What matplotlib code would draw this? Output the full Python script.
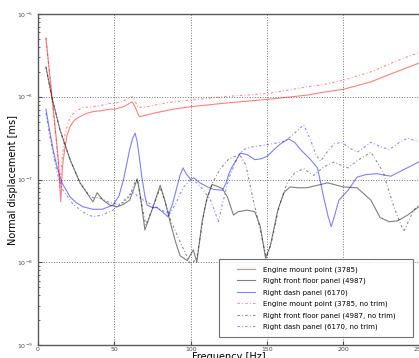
import numpy as np
import matplotlib
matplotlib.use("Agg")
import matplotlib.pyplot as plt
from matplotlib.legend_handler import HandlerLine2D

# ---- data (frequency in Hz, log10 of normal displacement in ms) ----
f_engine = [5.2, 8, 10, 12, 13.3, 14.9, 16, 17.7, 19, 21, 24, 27.5, 32, 36, 41, 47, 50.5, 56, 59, 61.7,
            63.5, 66.3, 69, 75.5, 88.6, 100, 121, 151, 176.5, 185, 200, 218, 233, 250]
engine_log = [-5.29, -5.79, -6.15, -6.51, -6.76, -7.27, -6.85, -6.61, -6.47, -6.36, -6.28, -6.24, -6.20,
              -6.18, -6.17, -6.15, -6.15, -6.12, -6.09, -6.06, -6.12, -6.24, -6.23, -6.20, -6.15, -6.12,
              -6.08, -6.03, -5.98, -5.95, -5.91, -5.82, -5.71, -5.59]

f_engine_nt = [5.2, 8, 10, 12, 13.5, 14.2, 15.5, 17.7, 21, 25, 29.5, 40, 47, 50.5, 56, 60, 62, 65.6, 71.5,
               84.6, 100, 121, 151, 176, 185, 200, 218, 233, 250]
engine_nt_log = [-5.29, -5.80, -6.17, -6.55, -6.85, -7.10, -6.80, -6.45, -6.24, -6.17, -6.13, -6.11, -6.08,
                 -6.08, -6.05, -6.01, -6.00, -6.13, -6.12, -6.07, -6.04, -6.00, -5.96, -5.88, -5.86, -5.80,
                 -5.70, -5.58, -5.46]

f_floor = [5.2, 9, 14.4, 21, 27.5, 33, 36, 38.7, 42.7, 47, 52, 56, 60, 63, 65, 67, 70, 75, 80, 83, 86.6,
           90, 93, 97.7, 101.7, 104, 107.6, 110.9, 114, 117, 120.7, 124, 128, 131, 137, 142, 145.6, 149,
           152, 157, 161, 165, 170, 176, 183, 189.6, 200, 209, 218, 224, 230, 235.5, 242, 250]
floor_log = [-5.64, -6.00, -6.40, -6.76, -7.04, -7.19, -7.27, -7.16, -7.25, -7.31, -7.33, -7.30, -7.25,
             -7.10, -6.99, -7.20, -7.61, -7.35, -7.07, -7.25, -7.52, -7.75, -7.92, -7.98, -7.85, -8.00,
             -7.49, -7.21, -7.06, -7.08, -7.11, -7.21, -7.43, -7.39, -7.37, -7.39, -7.57, -7.95, -7.81,
             -7.37, -7.16, -7.09, -7.10, -7.10, -7.07, -7.04, -7.09, -7.10, -7.25, -7.46, -7.51, -7.50,
             -7.43, -7.32]

f_floor_nt = [5.2, 9, 14.4, 21, 27.5, 33, 36, 40, 47, 52, 56, 60, 63, 65, 67.5, 70.5, 75, 80, 83, 87, 93,
              100, 104, 109.6, 114, 119, 125, 132, 136, 141, 146, 149.5, 153, 158, 163, 168, 174, 180.5,
              187, 193.6, 202.8, 210, 218, 226, 233, 239.5, 246, 250]
floor_nt_log = [-5.64, -6.00, -6.40, -6.76, -7.04, -7.18, -7.22, -7.22, -7.28, -7.30, -7.28, -7.20, -7.05,
                -7.00, -7.25, -7.55, -7.35, -7.10, -7.25, -7.50, -7.75, -8.03, -7.95, -7.30, -7.05, -6.88,
                -6.75, -6.70, -6.82, -7.25, -7.65, -7.95, -7.75, -7.32, -7.05, -6.92, -6.87, -6.95, -6.85,
                -6.79, -6.86, -6.76, -6.67, -6.91, -7.33, -7.63, -7.37, -7.29]

f_dash = [5.2, 7.9, 10, 12.5, 15.7, 21, 25, 29.5, 36, 42, 49, 53, 56, 58, 60, 62, 63.6, 65, 66.5, 68, 70,
          71.5, 75, 78, 82, 85, 88, 91, 93, 95, 97, 100, 102, 106, 111, 115, 120.7, 123, 125, 127, 132.5,
          137, 142, 146, 150, 155, 158.8, 164, 168, 172, 178.5, 183, 187, 190, 192, 194, 197, 203, 209,
          215, 222, 231, 239.5, 245, 250]
dash_log = [-6.15, -6.44, -6.65, -6.85, -7.04, -7.21, -7.28, -7.33, -7.36, -7.36, -7.31, -7.20, -7.00,
            -6.82, -6.64, -6.50, -6.44, -6.55, -6.75, -6.97, -7.20, -7.31, -7.34, -7.34, -7.40, -7.45,
            -7.30, -7.09, -6.95, -6.86, -6.93, -7.00, -6.98, -7.04, -7.09, -7.12, -7.13, -7.05, -6.93,
            -6.85, -6.68, -6.70, -6.76, -6.75, -6.72, -6.63, -6.57, -6.51, -6.55, -6.64, -6.76, -6.86,
            -7.21, -7.45, -7.57, -7.45, -7.25, -7.13, -6.97, -6.94, -6.93, -6.96, -6.88, -6.83, -6.78]

f_dash_nt = [5.2, 8, 12.5, 16, 23, 30, 36, 42, 49, 55, 60, 63, 66, 72, 80, 86, 90, 95, 100, 104, 108, 113,
             116, 118, 121, 125, 128, 131, 134.5, 139, 150, 159, 163, 168, 174, 178, 182, 185, 190, 194,
             199, 204, 209, 213, 218, 224, 230, 236, 242, 250]
dash_nt_log = [-6.20, -6.50, -6.92, -7.12, -7.30, -7.40, -7.45, -7.43, -7.37, -7.28, -7.18, -7.16, -7.22,
               -7.28, -7.36, -7.42, -7.30, -7.10, -7.00, -7.04, -7.12, -7.25, -7.40, -7.51, -7.28, -6.98,
               -6.85, -6.72, -6.64, -6.61, -6.58, -6.55, -6.52, -6.44, -6.34, -6.50, -6.70, -6.78, -6.65,
               -6.57, -6.55, -6.62, -6.67, -6.62, -6.55, -6.60, -6.64, -6.56, -6.50, -6.55]

labels = ["Engine mount point (3785)", "Right front floor panel (4987)", "Right dash panel (6170)",
          "Engine mount point (3785, no trim)", "Right front floor panel (4987, no trim)",
          "Right dash panel (6170, no trim)"]

x_ticks = [0, 50, 100, 150, 200, 250]
y_ticks = [1e-9, 1e-8, 1e-7, 1e-6, 1e-5]

fig = plt.figure(figsize=(4.19, 3.58), dpi=100)
ax = fig.add_axes([38 / 419, 0.0363, 381.8 / 419, 0.9246])

series = [
    (f_engine, engine_log, "r", "-"),
    (f_floor, floor_log, "k", "-"),
    (f_dash, dash_log, "b", "-"),
    (f_engine_nt, engine_nt_log, "r", "nt"),
    (f_floor_nt, floor_nt_log, "k", "nt"),
    (f_dash_nt, dash_nt_log, "b", "nt"),
]
for (fx, ly, c, ls), lab in zip(series, labels):
    if ls == "nt":
        ax.plot(fx, 10 ** np.array(ly), color=c, lw=0.8, alpha=0.45, label=lab,
                dashes=(2.2, 2.0, 0.8, 2.0))
    else:
        ax.plot(fx, 10 ** np.array(ly), color=c, ls=ls, lw=0.8, alpha=0.5, label=lab)

ax.set_yscale("log")
ax.set_xlim(0, 250)
ax.set_ylim(1e-9, 1e-5)
ax.set_xticks(x_ticks)
ax.set_yticks(y_ticks)
ax.grid(True, which="major", color="0.45", ls=":", lw=0.7)
ax.tick_params(which="both", direction="in", labelsize=4.5, top=False, right=False, colors="0.3")
ax.tick_params(which="major", length=3)
ax.tick_params(which="minor", length=1.5)
ax.tick_params(axis="x", pad=1.5)
for s in ax.spines.values():
    s.set_color("0.35")
    s.set_linewidth(1.0)
ax.set_xlabel("Frequency [Hz]", fontsize=7, labelpad=0)
ax.set_ylabel("Normal displacement [ms]", fontsize=7, labelpad=-1)

# legend box: x 219..412 px, bottom at 337 px
x0 = (219 - 38) / 381.0
x1 = (412 - 38) / 381.0
y0 = (345 - 337) / 331.0
leg = ax.legend(loc="lower left", bbox_to_anchor=(x0, y0, x1 - x0, 0.3), mode="expand",
                fontsize=5, fancybox=False, edgecolor="0.3", borderaxespad=0.0,
                handlelength=4.2, labelspacing=0.71, borderpad=1.0, handletextpad=1.15,
                handler_map={matplotlib.lines.Line2D: HandlerLine2D(xpad=1.6)})
leg.get_frame().set_linewidth(0.8)

fig.savefig("out.png", dpi=100)
